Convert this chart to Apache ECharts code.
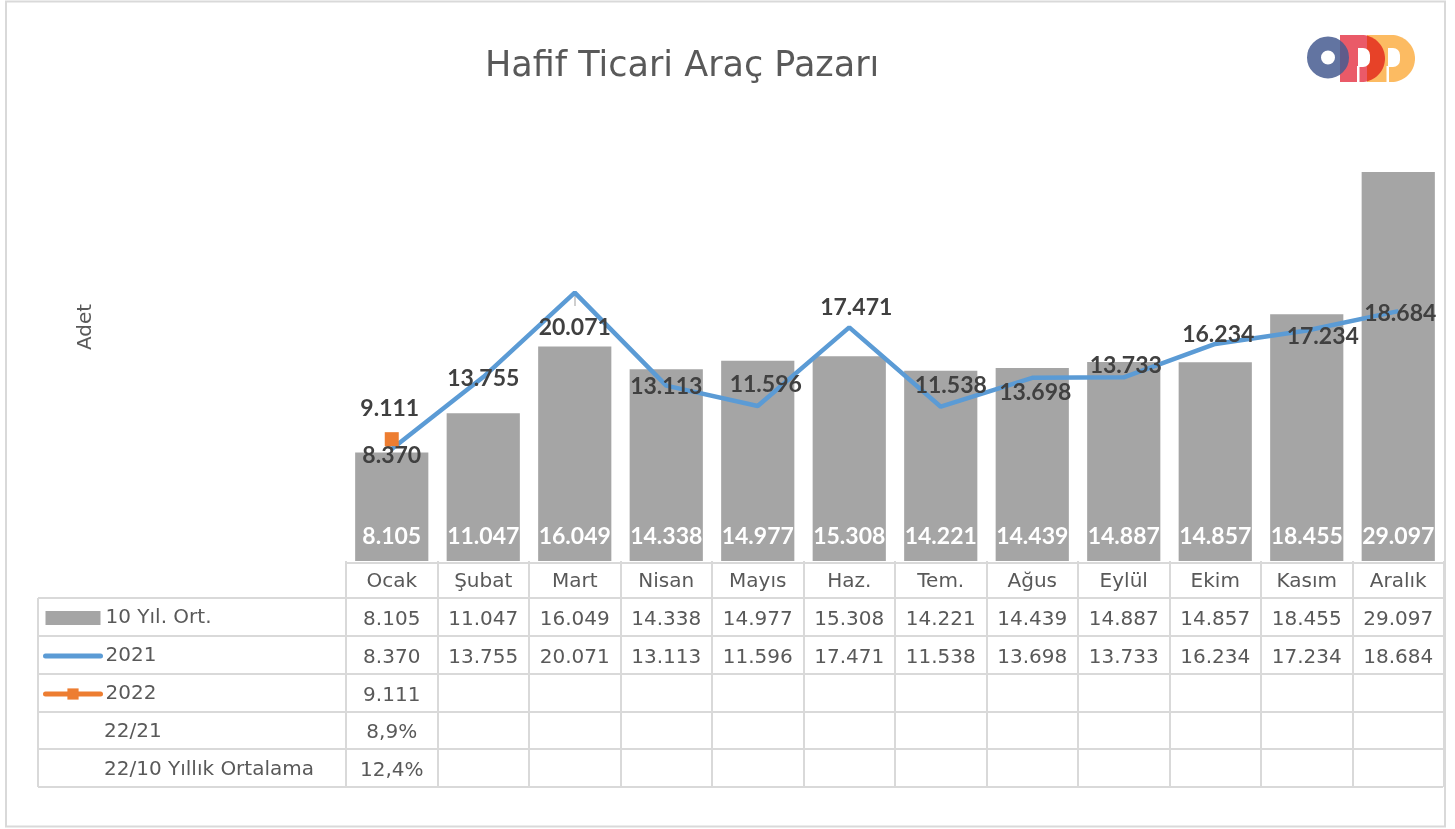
<!DOCTYPE html>
<html>
<head>
<meta charset="utf-8">
<script src="https://cdn.jsdelivr.net/npm/echarts@6/dist/echarts.min.js"></script>
<style>
  html, body { margin: 0; padding: 0; background: #fff; }
  #chart { width: 1455px; height: 829px; }
</style>
</head>
<body>
<div id="chart"></div>
<script>
// veriler
var months = ["Ocak", "Şubat", "Mart", "Nisan", "Mayıs", "Haz.", "Tem.", "Ağus", "Eylül", "Ekim", "Kasım", "Aralık"];
var avg10 = [8105, 11047, 16049, 14338, 14977, 15308, 14221, 14439, 14887, 14857, 18455, 29097];
var y2021 = [8370, 13755, 20071, 13113, 11596, 17471, 11538, 13698, 13733, 16234, 17234, 18684];
var y2022 = [9111];
var ratio2221 = [8.9];
var ratio2210 = [12.4];

// 2021 etiketlerinin noktaya göre kaydırması
var offsets2021 = [[0, 6], [0, 2], [0, 35], [0, 1], [8, -21], [7, -20], [10, -21], [3, 15], [2, -12], [3, -9], [16, 6], [2, 2]];

var FONT = "DejaVu Sans";
var BOLD = "Lato";
var GRAY = "#595959";
var LINE = "#d9d9d9";

function fmt(v) {
  if (v === undefined || v === null) return " ";
  var k = Math.floor(v / 1000);
  var r = String(v % 1000);
  while (r.length < 3) r = "0" + r;
  return k > 0 ? k + "." + r : String(v);
}
function pct(v) {
  if (v === undefined || v === null) return " ";
  return v.toFixed(1).replace(".", ",") + "%";
}

var data2021 = y2021.map(function (v, i) {
  return { value: v, label: { offset: offsets2021[i] } };
});

// logo icin D harfi
function dShape(x0, xc, y0, y1) {
  var r = (y1 - y0) / 2, cy = (y0 + y1) / 2;
  var pts = [[x0, y0], [xc, y0]];
  for (var a = -85; a <= 85; a += 5) {
    var t = a * Math.PI / 180;
    pts.push([xc + r * Math.cos(t), cy + r * Math.sin(t)]);
  }
  pts.push([xc, y1], [x0, y1]);
  return pts;
}

// tablo çizgileri
var tableLeft = 38, tableRight = 1443, firstCol = 346;
var rowLines = [598, 636, 674, 712, 749, 787];
var graphics = [];
graphics.push({
  type: "rect", shape: { x: 6, y: 1.5, width: 1439, height: 825 },
  style: { fill: "none", stroke: LINE, lineWidth: 2 }, silent: true
});
graphics.push({
  type: "line", shape: { x1: firstCol, y1: 563, x2: tableRight, y2: 563 },
  style: { stroke: LINE, lineWidth: 2 }
});
rowLines.forEach(function (y) {
  graphics.push({
    type: "line", shape: { x1: tableLeft, y1: y, x2: tableRight, y2: y },
    style: { stroke: LINE, lineWidth: 2 }
  });
});
graphics.push({
  type: "line", shape: { x1: tableLeft, y1: 598, x2: tableLeft, y2: 787 },
  style: { stroke: LINE, lineWidth: 2 }
});
graphics.push({
  type: "text", x: 104, y: 732,
  style: { text: "22/21", font: "20px " + FONT, fill: GRAY, verticalAlign: "middle" }
});
graphics.push({
  type: "text", x: 104, y: 770,
  style: { text: "22/10 Yıllık Ortalama", font: "20px " + FONT, fill: GRAY, verticalAlign: "middle" }
});
// Mart tepesindeki kisa gri cizgi
graphics.push({
  type: "line", shape: { x1: 575, y1: 296, x2: 575, y2: 306 },
  style: { stroke: "#bfbfbf", lineWidth: 1.5 }
});
// logo
graphics.push({
  type: "polygon", shape: { points: dShape(1340, 1361.5, 35, 82) },
  style: { fill: "#ea5a68", blend: "multiply" }
});
graphics.push({
  type: "polygon", shape: { points: dShape(1367, 1391.5, 35, 82) },
  style: { fill: "#fcbb62", blend: "multiply" }
});
graphics.push({
  type: "rect", shape: { x: 1358, y: 48, width: 12, height: 19, r: [0, 7, 7, 0] },
  style: { fill: "#ffffff" }
});
graphics.push({
  type: "rect", shape: { x: 1357, y: 66, width: 2.5, height: 17 },
  style: { fill: "#ffffff" }
});
graphics.push({
  type: "rect", shape: { x: 1388, y: 48, width: 12, height: 19, r: [0, 7, 7, 0] },
  style: { fill: "#ffffff" }
});
graphics.push({
  type: "rect", shape: { x: 1386.5, y: 66, width: 2.5, height: 17 },
  style: { fill: "#ffffff" }
});
graphics.push({
  type: "circle", shape: { cx: 1328, cy: 57.5, r: 14 },
  style: { fill: "none", stroke: "rgba(70,92,145,0.85)", lineWidth: 14 }
});

var option = {
  backgroundColor: "#ffffff",
  animation: false,
  textStyle: { fontFamily: FONT },
  title: {
    text: "Hafif Ticari Araç Pazarı",
    left: 480,
    top: 44,
    textStyle: { fontFamily: FONT, fontSize: 35, fontWeight: "normal", color: GRAY }
  },
  legend: {
    orient: "vertical",
    left: 43,
    top: 599,
    padding: 0,
    itemGap: 0,
    itemWidth: 55,
    itemHeight: 14,
    selectedMode: false,
    textStyle: { fontFamily: FONT, fontSize: 20, color: GRAY, lineHeight: 38 },
    data: [
      { name: "10 Yıl. Ort.", icon: "rect" },
      { name: "2021", itemStyle: { opacity: 0 }, lineStyle: { width: 5, cap: "round" } },
      { name: "2022", lineStyle: { width: 5, cap: "round" } }
    ]
  },
  grid: { left: 346, right: 11, top: 93, bottom: 268 },
  xAxis: {
    type: "category",
    data: months,
    axisLine: { show: false },
    axisTick: {
      show: true, interval: 0, length: 226,
      lineStyle: { color: LINE, width: 2 }
    },
    axisLabel: {
      interval: 0,
      margin: 2,
      fontFamily: FONT,
      fontSize: 20,
      color: GRAY,
      lineHeight: 37.8,
      formatter: function (value, idx) {
        return [
          value,
          fmt(avg10[idx]),
          fmt(y2021[idx]),
          fmt(y2022[idx]),
          pct(ratio2221[idx]),
          pct(ratio2210[idx])
        ].join("\n");
      }
    }
  },
  yAxis: {
    type: "value",
    min: 0,
    max: 35000,
    name: "Adet",
    nameLocation: "middle",
    nameRotate: 90,
    nameGap: 250,
    nameTextStyle: { fontFamily: FONT, fontSize: 20, color: GRAY },
    axisLine: { show: false },
    axisTick: { show: false },
    axisLabel: { show: false },
    splitLine: { show: false }
  },
  series: [
    {
      name: "10 Yıl. Ort.",
      type: "bar",
      data: avg10,
      barCategoryGap: "20%",
      itemStyle: { color: "#a5a5a5" },
      label: {
        show: true,
        position: "insideBottom",
        distance: 13,
        color: "#ffffff",
        fontFamily: BOLD,
        fontSize: 23,
        fontWeight: "bold",
        formatter: function (p) { return fmt(p.value); }
      }
    },
    {
      name: "2021",
      type: "line",
      data: data2021,
      symbol: "circle",
      symbolSize: 2,
      showSymbol: true,
      lineStyle: { color: "#5b9bd5", width: 4.5 },
      itemStyle: { color: "#5b9bd5" },
      label: {
        show: true,
        position: "inside",
        color: "#404040",
        fontFamily: BOLD,
        fontSize: 23,
        fontWeight: "bold",
        formatter: function (p) { return fmt(p.value); }
      },
      z: 3
    },
    {
      name: "2022",
      type: "line",
      data: y2022,
      symbol: "rect",
      symbolSize: 14,
      lineStyle: { color: "#ed7d31", width: 4.5 },
      itemStyle: { color: "#ed7d31" },
      label: {
        show: true,
        position: "inside",
        offset: [-2, -31],
        color: "#404040",
        fontFamily: BOLD,
        fontSize: 23,
        fontWeight: "bold",
        formatter: function (p) { return fmt(p.value); }
      },
      z: 4
    }
  ],
  graphic: graphics
};

var myChart = echarts.init(document.getElementById("chart"));
myChart.setOption(option);
</script>
</body>
</html>
